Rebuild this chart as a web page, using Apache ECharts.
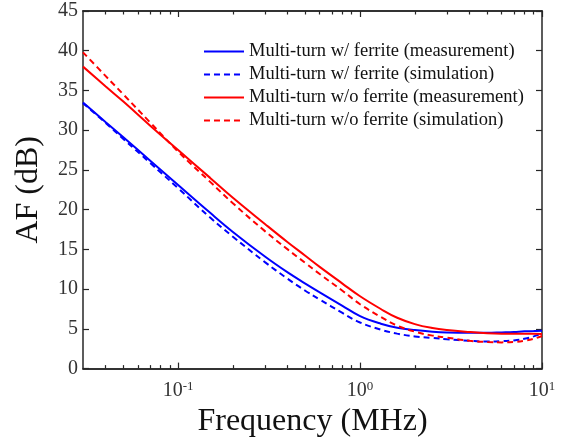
<!DOCTYPE html>
<html>
<head>
<meta charset="utf-8">
<script src="https://cdn.jsdelivr.net/npm/echarts@6/dist/echarts.min.js"></script>
<style>
  html, body { margin: 0; padding: 0; background: #fff; }
  #chart { width: 565px; height: 443px; }
</style>
</head>
<body>
<div id="chart"></div>
<script>
// frequencies in MHz
const freq = [0.03, 0.04, 0.05, 0.07, 0.1, 0.15, 0.2, 0.3, 0.4, 0.5, 0.6, 0.8, 1,
  1.3, 1.6, 2, 2.5, 3, 4, 5, 6, 7, 8, 9, 10];

// AF in dB
const withFerriteMeas = [33.5, 31.0, 29.1, 26.2, 23.1, 19.6, 17.2, 14.1, 12.1, 10.7, 9.6, 7.9, 6.6,
  5.65, 5.15, 4.85, 4.65, 4.55, 4.5, 4.5, 4.55, 4.6, 4.7, 4.72, 4.75];
const withFerriteSim = [33.4, 30.9, 28.9, 25.9, 22.7, 19.0, 16.6, 13.4, 11.3, 9.8, 8.7, 7.0, 5.8,
  4.9, 4.4, 4.05, 3.85, 3.7, 3.5, 3.4, 3.45, 3.55, 3.75, 4.05, 4.45];
const noFerriteMeas = [38.0, 35.5, 33.6, 30.6, 27.5, 24.0, 21.5, 18.2, 15.9, 14.2, 12.8, 10.7, 9.1,
  7.5, 6.4, 5.6, 5.1, 4.85, 4.6, 4.45, 4.4, 4.4, 4.4, 4.4, 4.35];
const noFerriteSim = [39.8, 36.8, 34.5, 31.0, 27.3, 23.5, 20.8, 17.3, 15.0, 13.3, 11.9, 9.8, 8.1,
  6.5, 5.4, 4.65, 4.15, 3.9, 3.5, 3.35, 3.3, 3.35, 3.5, 3.75, 4.1];

const seriesNames = [
  "Multi-turn w/ ferrite (measurement)",
  "Multi-turn w/ ferrite (simulation)",
  "Multi-turn w/o ferrite (measurement)",
  "Multi-turn w/o ferrite (simulation)",
];

const majorX = [0.1, 1, 10];
const minorX = [0.04, 0.05, 0.06, 0.07, 0.08, 0.09, 0.2, 0.3, 0.4, 0.5, 0.6, 0.7, 0.8, 0.9,
  2, 3, 4, 5, 6, 7, 8, 9];

const serif = "'Liberation Serif', 'Times New Roman', serif";
const axisColor = "#262626";

const pairs = (ys) => freq.map((f, i) => [f, ys[i]]);

const makeX = (pos, ticks, len, showLabel, name) => ({
  type: "log",
  logBase: 10,
  min: 0.03,
  max: 10,
  position: pos,
  name: name || "",
  nameLocation: "middle",
  nameGap: 33,
  nameTextStyle: { fontFamily: serif, fontSize: 32, color: "#111" },
  axisLine: { show: true, onZero: false, lineStyle: { color: axisColor, width: 1.5 } },
  axisTick: { show: true, inside: true, length: len, customValues: ticks,
    lineStyle: { color: axisColor, width: 1.2 } },
  axisLabel: {
    show: showLabel,
    customValues: majorX,
    margin: 11,
    formatter: (v) => "{b|10}{s|" + Math.round(Math.log10(v)) + "}",
    rich: {
      b: { fontFamily: serif, fontSize: 20, color: "#333" },
      s: { fontFamily: serif, fontSize: 13, color: "#333", padding: [0, 0, 10, 0] },
    },
  },
  splitLine: { show: false },
});

const makeY = (pos, showLabel, name) => ({
  type: "value",
  min: 0,
  max: 45,
  interval: 5,
  position: pos,
  name: name || "",
  nameLocation: "middle",
  nameGap: 38,
  nameTextStyle: { fontFamily: serif, fontSize: 32, color: "#111" },
  axisLine: { show: true, lineStyle: { color: axisColor, width: 1.5 } },
  axisTick: { show: true, inside: true, length: 6, lineStyle: { color: axisColor, width: 1.2 } },
  axisLabel: { show: showLabel, margin: 5, fontFamily: serif, fontSize: 20, color: "#333" },
  splitLine: { show: false },
});

const chart = echarts.init(document.getElementById("chart"), null, { renderer: "canvas" });

const lineSeries = (name, ys, color, dashed) => ({
  name,
  type: "line",
  xAxisIndex: 0,
  yAxisIndex: 0,
  data: pairs(ys),
  smooth: 0.4,
  symbol: "none",
  lineStyle: { color, width: 2, type: dashed ? [6, 4] : "solid" },
  itemStyle: { color },
});

chart.setOption({
  animation: false,
  backgroundColor: "#fff",
  grid: { left: 83, right: 23, top: 11, bottom: 68, containLabel: false },
  xAxis: [
    makeX("bottom", majorX, 6, true, "Frequency (MHz)"),
    makeX("bottom", minorX, 3.5, false),
    makeX("top", majorX, 6, false),
    makeX("top", minorX, 3.5, false),
  ],
  yAxis: [
    makeY("left", true, "AF (dB)"),
    makeY("right", false),
  ],
  legend: {
    orient: "vertical",
    left: 198,
    top: 37,
    itemWidth: 40,
    itemHeight: 14,
    itemGap: 4,
    itemStyle: { opacity: 0 },
    textStyle: { fontFamily: serif, fontSize: 18.5, color: "#111" },
    data: seriesNames,
  },
  series: [
    lineSeries(seriesNames[0], withFerriteMeas, "#0000ff", false),
    lineSeries(seriesNames[1], withFerriteSim, "#0000ff", true),
    lineSeries(seriesNames[2], noFerriteMeas, "#ff0000", false),
    lineSeries(seriesNames[3], noFerriteSim, "#ff0000", true),
  ],
});
</script>
</body>
</html>
